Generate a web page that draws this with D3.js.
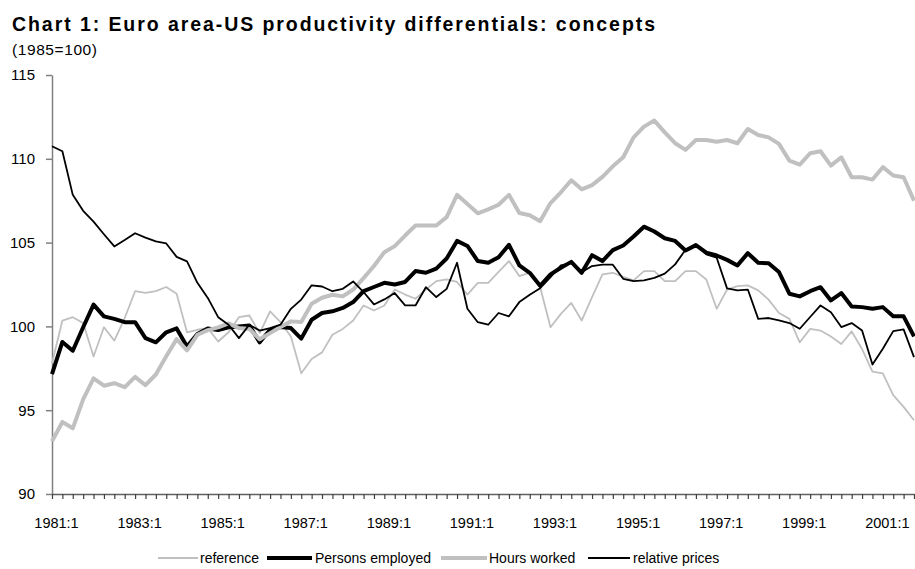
<!DOCTYPE html>
<html>
<head>
<meta charset="utf-8">
<script src="https://cdn.jsdelivr.net/npm/d3@7"></script>
<style>
  body { margin: 0; background: #fff; }
  svg { display: block; }
</style>
</head>
<body>
<svg id="chart" width="915" height="569"></svg>
<script>
// Quarterly categories 1981:1 … 2001:4
const quarters = [];
for (let yr = 1981; yr <= 2001; yr++) for (let q = 1; q <= 4; q++) quarters.push(yr + ":" + q);

const xTickLabels = ["1981:1", "1983:1", "1985:1", "1987:1", "1989:1", "1991:1",
                     "1993:1", "1995:1", "1997:1", "1999:1", "2001:1"];
const yTicks = [90, 95, 100, 105, 110, 115];

const reference = [
  97.8, 100.35, 100.55, 100.2, 98.2, 99.95, 99.15, 100.5, 102.1, 102.0, 102.1, 102.35,
  101.95, 99.65, 99.8, 99.9, 99.1, 99.65, 100.55, 100.65, 99.6, 100.9, 100.25, 99.4,
  97.2, 98.05, 98.45, 99.5, 99.85, 100.35, 101.25, 100.95, 101.25, 102.2, 101.9, 101.65,
  102.2, 102.7, 102.8, 102.65, 101.9, 102.6, 102.6, 103.25, 103.9, 103.0, 103.2, 102.35,
  99.95, 100.75, 101.4, 100.35, 101.75, 103.1, 103.2, 102.95, 102.75, 103.3, 103.3, 102.7,
  102.7, 103.3, 103.3, 102.8, 101.05, 102.2, 102.4, 102.45, 102.15, 101.6, 100.8, 100.45,
  99.05, 99.85, 99.75, 99.4, 98.95, 99.7, 98.65, 97.3, 97.2, 95.9, 95.2, 94.4
];

const personsEmployed = [
  97.15, 99.07, 98.55, 99.95, 101.3, 100.6, 100.45, 100.25, 100.25, 99.3, 99.05, 99.65,
  99.88, 98.8, 99.55, 99.88, 99.78, 99.95, 100.0, 100.05, 99.05, 99.8, 99.96, 99.9,
  99.27, 100.4, 100.8, 100.9, 101.1, 101.45, 102.1, 102.35, 102.6, 102.5, 102.65, 103.3,
  103.2, 103.45, 104.05, 105.1, 104.8, 103.9, 103.8, 104.13, 104.87, 103.64, 103.2, 102.42,
  103.1, 103.5, 103.85, 103.2, 104.25, 103.9, 104.55, 104.83, 105.36, 105.95, 105.66, 105.26,
  105.1, 104.53, 104.85, 104.4, 104.23, 103.97, 103.64, 104.37, 103.8, 103.77, 103.24, 101.95,
  101.79, 102.1, 102.34, 101.55, 101.99, 101.19, 101.15, 101.05, 101.15, 100.6, 100.6, 99.4
];

const hoursWorked = [
  93.15, 94.3, 93.92, 95.65, 96.9, 96.46, 96.61, 96.37, 96.99, 96.49, 97.13, 98.22,
  99.24, 98.57, 99.5, 99.78, 99.94, 100.18, 99.9, 99.85, 99.23, 99.6, 99.96, 100.3,
  100.26, 101.35, 101.71, 101.89, 101.79, 102.2, 102.88, 103.6, 104.43, 104.79, 105.42, 106.02,
  106.02, 106.02, 106.52, 107.85, 107.31, 106.75, 106.98, 107.26, 107.85, 106.77, 106.63, 106.28,
  107.36, 108.0, 108.72, 108.18, 108.43, 108.92, 109.55, 110.09, 111.28, 111.92, 112.28, 111.58,
  110.93, 110.53, 111.12, 111.12, 111.02, 111.12, 110.93, 111.78, 111.42, 111.28, 110.89, 109.89,
  109.65, 110.33, 110.45, 109.59, 110.09, 108.9, 108.9, 108.76, 109.5, 109.0, 108.9, 107.5
];

const relativePrices = [
  110.75, 110.45, 107.85, 106.9, 106.25, 105.5, 104.77, 105.15, 105.56, 105.3, 105.07, 104.95,
  104.15, 103.88, 102.6, 101.7, 100.55, 100.1, 99.3, 100.1, 99.75, 99.9, 100.1, 101.05,
  101.6, 102.45, 102.38, 102.1, 102.24, 102.68, 102.05, 101.31, 101.61, 101.99, 101.25, 101.25,
  102.34, 101.75, 102.24, 103.8, 101.05, 100.25, 100.1, 100.8, 100.6, 101.45, 101.89, 102.28,
  102.94, 103.64, 103.77, 103.24, 103.6, 103.68, 103.68, 102.84, 102.7, 102.75, 102.9, 103.15,
  103.7, 104.57, 104.85, 104.3, 104.1, 102.27, 102.15, 102.2, 100.45, 100.5, 100.36, 100.2,
  99.86, 100.56, 101.25, 100.85, 99.96, 100.2, 99.76, 97.72, 98.67, 99.72, 99.82, 98.17
];

const seriesNames = ["reference", "Persons employed", "Hours worked", "relative prices"];
const seriesValues = [reference, personsEmployed, hoursWorked, relativePrices];
const seriesStyle = [
  { color: "#c0c0c0", width: 1.8 },
  { color: "#000000", width: 4 },
  { color: "#c0c0c0", width: 4 },
  { color: "#000000", width: 1.8 }
];

const svg = d3.select("#chart");
const FONT = "'Liberation Sans', Arial, sans-serif";

const plotLeft = 52, plotRight = 914, plotTop = 75, plotBottom = 494;

const x = d3.scalePoint().domain(quarters).range([plotLeft, plotRight]);
const y = d3.scaleLinear().domain([90, 115]).range([plotBottom, plotTop]);

// Title and unit note
svg.append("text")
  .attr("x", 12).attr("y", 31)
  .attr("font-family", FONT).attr("font-weight", "bold").attr("font-size", 19.5)
  .attr("textLength", 643).attr("lengthAdjust", "spacing")
  .attr("fill", "#000")
  .text("Chart 1: Euro area-US productivity differentials:  concepts");

svg.append("text")
  .attr("x", 12).attr("y", 55)
  .attr("font-family", FONT).attr("font-size", 15.5)
  .attr("textLength", 85).attr("lengthAdjust", "spacing")
  .attr("fill", "#000")
  .text("(1985=100)");

// Y axis
const yAxis = svg.append("g")
  .attr("transform", `translate(${plotLeft},0)`)
  .call(d3.axisLeft(y).tickValues(yTicks).tickSize(6).tickPadding(11).tickSizeOuter(0));
yAxis.select(".domain").attr("stroke", "#808080").attr("stroke-width", 1.5);
yAxis.selectAll(".tick line").attr("stroke", "#808080").attr("stroke-width", 1.5);
yAxis.selectAll(".tick text")
  .attr("font-family", FONT).attr("font-size", 15).attr("fill", "#000");

// X axis: a tick for every quarter, a label every second year
const xAxis = svg.append("g")
  .attr("transform", `translate(0,${plotBottom})`)
  .call(d3.axisBottom(x).tickValues(quarters).tickSize(5).tickSizeOuter(0)
    .tickFormat(d => xTickLabels.includes(d) ? d : ""));
xAxis.select(".domain").attr("stroke", "#606060").attr("stroke-width", 1.5);
xAxis.selectAll(".tick line").attr("stroke", "#404040").attr("stroke-width", 1.2);
xAxis.selectAll(".tick text")
  .attr("font-family", FONT).attr("font-size", 14.5).attr("fill", "#000")
  .attr("y", 34).attr("dy", 0).attr("dx", 4);

// Series lines
const line = d3.line()
  .x((d, i) => x(quarters[i]))
  .y(d => y(d));

seriesValues.forEach((vals, k) => {
  svg.append("path")
    .datum(vals)
    .attr("fill", "none")
    .attr("stroke", seriesStyle[k].color)
    .attr("stroke-width", seriesStyle[k].width)
    .attr("stroke-linejoin", "round")
    .attr("stroke-linecap", "butt")
    .attr("d", line);
});

// Legend
const legendItems = [
  { x1: 158, x2: 198, tx: 200 },
  { x1: 267, x2: 312, tx: 315 },
  { x1: 441, x2: 487, tx: 489 },
  { x1: 588, x2: 630, tx: 633 }
];
const legend = svg.append("g");
legendItems.forEach((it, k) => {
  legend.append("line")
    .attr("x1", it.x1).attr("x2", it.x2).attr("y1", 558).attr("y2", 558)
    .attr("stroke", seriesStyle[k].color).attr("stroke-width", seriesStyle[k].width);
  legend.append("text")
    .attr("x", it.tx).attr("y", 563)
    .attr("font-family", FONT).attr("font-size", 14).attr("fill", "#000")
    .text(seriesNames[k]);
});
</script>
</body>
</html>
